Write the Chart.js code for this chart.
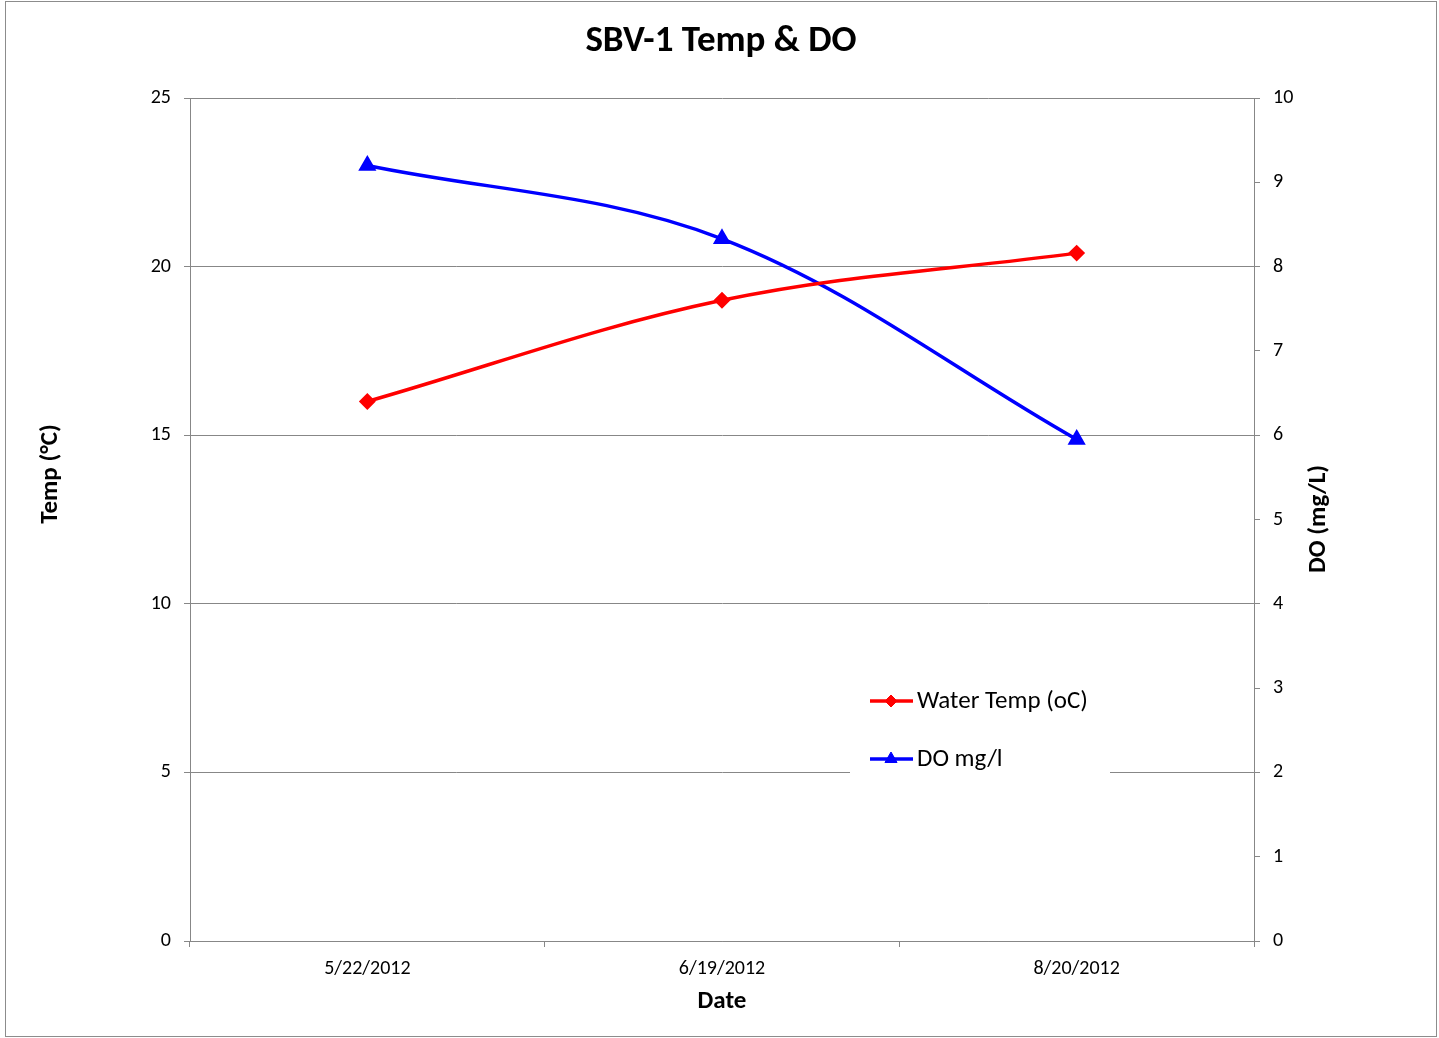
<!DOCTYPE html>
<html lang="en">
<head>
    <meta charset="UTF-8">
    <title>SBV-1 Temp & DO</title>
    <script src="https://cdn.jsdelivr.net/npm/chart.js"></script>
    <style>
        body { margin: 0; background: #fff; }
        #wrap { width: 1439px; height: 1038px; position: relative; }
    </style>
</head>
<body>
    <div id="wrap">
        <canvas id="myChart" width="1439" height="1038"></canvas>
    </div>
    <script>
        const FONT = "Carlito, Lato, 'Liberation Sans', sans-serif";

        // data
        const dates = ['5/22/2012', '6/19/2012', '8/20/2012'];
        const waterTemp = [16.0, 19.0, 20.4];
        const doMgL = [9.2, 8.33, 5.95];

        const GRID = '#878787';

        // frame, titles and the legend box inside the plot
        const decorations = {
            id: 'decorations',
            beforeDraw(chart) {
                const c = chart.ctx;
                c.save();
                c.fillStyle = '#fff';
                c.fillRect(0, 0, chart.width, chart.height);
                c.strokeStyle = '#8c8c8c';
                c.lineWidth = 1;
                c.strokeRect(5.5, 1.5, 1431, 1035);
                c.restore();
            },
            afterDraw(chart) {
                const c = chart.ctx;
                c.save();
                c.fillStyle = '#000';
                c.textAlign = 'center';
                c.textBaseline = 'middle';
                c.font = 'bold 37px ' + FONT;
                c.fillText('SBV-1 Temp & DO', 721, 42);
                c.font = 'bold 25px ' + FONT;
                c.fillText('Date', 722, 1002);

                c.save();
                c.translate(51, 474);
                c.rotate(-Math.PI / 2);
                c.fillText('Temp (\u00B0C)', 0, 0);
                c.restore();

                c.save();
                c.translate(1319, 519);
                c.rotate(-Math.PI / 2);
                c.fillText('DO (mg/L)', 0, 0);
                c.restore();

                // legend
                c.fillStyle = '#fff';
                c.fillRect(850, 672, 260, 112);
                const items = [
                    { text: 'Water Temp (oC)', color: '#ff0000', style: 'rectRot', r: 6, y: 701 },
                    { text: 'DO mg/l', color: '#0000ff', style: 'triangle', r: 7, y: 759 }
                ];
                items.forEach(it => {
                    c.strokeStyle = it.color;
                    c.lineWidth = 3.5;
                    c.beginPath();
                    c.moveTo(870, it.y);
                    c.lineTo(913, it.y);
                    c.stroke();
                    c.fillStyle = it.color;
                    c.lineWidth = 1;
                    Chart.helpers.drawPoint(c, { pointStyle: it.style, radius: it.r, borderWidth: 1 }, 891, it.y);
                    c.fillStyle = '#000';
                    c.textAlign = 'left';
                    c.font = '25px ' + FONT;
                    c.fillText(it.text, 917, it.y + 1);
                });
                c.restore();
            }
        };

        const tickFont = { family: FONT, size: 20 };

        const config = {
            type: 'line',
            data: {
                labels: dates,
                datasets: [{
                    label: 'Water Temp (oC)',
                    data: waterTemp,
                    yAxisID: 'yTemp',
                    borderColor: '#ff0000',
                    backgroundColor: '#ff0000',
                    borderWidth: 3.5,
                    pointStyle: 'rectRot',
                    pointRadius: 6,
                    tension: 0.35,
                    fill: false
                }, {
                    label: 'DO mg/l',
                    data: doMgL,
                    yAxisID: 'yDO',
                    borderColor: '#0000ff',
                    backgroundColor: '#0000ff',
                    borderWidth: 3.5,
                    pointStyle: 'triangle',
                    pointRadius: 7,
                    tension: 0.35,
                    fill: false
                }]
            },
            options: {
                responsive: false,
                animation: false,
                layout: { padding: { top: 98, left: 0, right: 0, bottom: 0 } },
                plugins: {
                    legend: { display: false },
                    title: { display: false },
                    tooltip: { enabled: false }
                },
                scales: {
                    x: {
                        offset: true,
                        grid: { offset: true, drawOnChartArea: false, color: GRID, tickLength: 6 },
                        border: { color: GRID },
                        ticks: { font: tickFont, color: '#000', padding: 10, maxRotation: 0 },
                        afterFit(s) { s.height = 97; }
                    },
                    yTemp: {
                        position: 'left',
                        min: 0, max: 25,
                        ticks: { stepSize: 5, font: tickFont, color: '#000', padding: 13 },
                        grid: { color: GRID, tickLength: 6 },
                        border: { color: GRID },
                        afterFit(s) { s.width = 190; }
                    },
                    yDO: {
                        position: 'right',
                        min: 0, max: 10,
                        ticks: { stepSize: 1, font: tickFont, color: '#000', padding: 13 },
                        grid: { drawOnChartArea: false, color: GRID, tickLength: 6 },
                        border: { color: GRID },
                        afterFit(s) { s.width = 185; }
                    }
                }
            },
            plugins: [decorations]
        };

        const myChart = new Chart(document.getElementById('myChart').getContext('2d'), config);
    </script>
</body>
</html>
